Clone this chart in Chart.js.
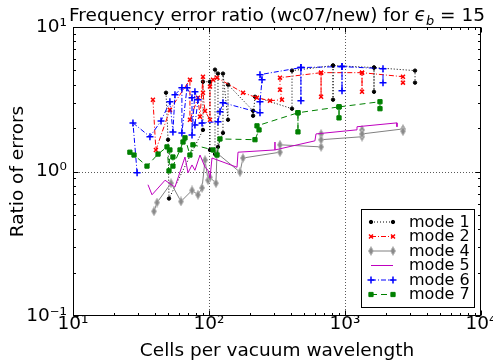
<!DOCTYPE html>
<html lang="en">
<head>
<meta charset="utf-8">
<title>Frequency error ratio</title>
<script src="https://cdn.jsdelivr.net/npm/chart.js@4.4.1/dist/chart.umd.min.js"></script>
<style>
  body { margin: 0; background: #fff; }
  #wrap { width: 493px; height: 360px; }
</style>
</head>
<body>
<div id="wrap"><canvas id="chart" width="493" height="360"></canvas></div>
<script>
// axis ticks
const xTicks = [10, 100, 1000, 10000];
const xTickLabels = ["10¹", "10²", "10³", "10⁴"];
const yTicks = [0.1, 1, 10];
const yTickLabels = ["10⁻¹", "10⁰", "10¹"];

// values (cells per wavelength, error ratio)
const mode1X = [48.3, 50.0, 50.8, 90.3, 90.3, 101.7, 101.7, 110.7, 110.7, 116.4, 116.4, 126.7, 126.7, 138, 138, 211, 211, 218, 407.7, 407.7, 816.6, 816.6, 816.6, 1634, 1634, 1634, 3273, 3273];
const mode1Y = [3.51, 1.66, 0.65, 1.94, 4.18, 4.18, 1.41, 1.32, 5.07, 4.76, 1.48, 1.85, 4.76, 2.28, 3.99, 2.63, 2.43, 3.29, 2.72, 4.99, 5.41, 3.14, 5.41, 5.24, 3.56, 5.24, 4.99, 4.12];

const mode2X = [38.7, 40.7, 51.6, 72.4, 72.4, 83, 85.9, 90.3, 90.3, 93.5, 101.7, 101.7, 107, 114.5, 177.8, 225, 281, 344, 332.7, 332.7, 666.8, 666.8, 666.8, 1334, 1334, 1334, 2668, 2668];
const mode2Y = [3.14, 1.41, 2.67, 4.32, 2.28, 3.24, 2.39, 4.53, 3.51, 2.62, 2.28, 3.87, 4.32, 4.46, 3.51, 3.24, 3.09, 3.14, 3.68, 4.46, 4.83, 3.29, 4.83, 4.83, 3.56, 4.83, 4.53, 4.12];

const mode4X = [39.4, 41.5, 52.6, 62.2, 75.0, 83.0, 88.9, 93.5, 98.4, 101.7, 112.5, 114.5, 169.0, 177.8, 332.7, 332.7, 666.8, 666.8, 666.8, 1334, 1334, 1334, 2668, 2668];
const mode4Y = [0.53, 0.61, 0.83, 0.62, 0.74, 0.69, 0.77, 1.20, 0.87, 0.91, 0.83, 1.34, 0.99, 1.24, 1.36, 1.53, 1.48, 1.82, 1.66, 1.74, 1.94, 1.82, 1.97, 1.90];

const mode5X = [35.6, 38.1, 47.5, 56.2, 66.6, 70.1, 75.0, 78.8, 85.9, 93.5, 98.4, 101.7, 105.2, 160.7, 163.4, 305.5, 305.5, 305.5, 601, 612, 1205, 1225, 2410, 2410];
const mode5Y = [0.81, 0.69, 0.87, 0.78, 1.26, 0.98, 1.11, 1.02, 1.30, 1.07, 1.02, 0.90, 1.24, 1.07, 1.36, 1.41, 1.60, 1.41, 1.63, 1.82, 1.94, 2.04, 2.17, 2.04];

const mode6X = [29.6, 27.6, 36.8, 44.4, 51.6, 54.3, 56.2, 63.2, 63.2, 68.9, 75, 75, 78.8, 83, 78.8, 88.9, 116.4, 120.4, 126.7, 237.1, 237.1, 245.5, 237.1, 474.2, 474.2, 474.2, 950.6, 950.6, 950.6, 1903, 1903];
const mode6Y = [0.98, 2.17, 1.74, 2.24, 3.04, 1.88, 3.40, 3.80, 1.85, 3.80, 3.24, 1.79, 3.56, 3.14, 2.10, 2.17, 2.21, 2.59, 2.99, 2.55, 3.04, 4.32, 4.68, 5.24, 3.09, 5.24, 5.32, 3.62, 5.32, 5.15, 4.12];

const mode7X = [26.2, 28.1, 35.0, 42.2, 49.1, 50.8, 51.6, 54.3, 54.3, 61.2, 64.4, 66.6, 72.4, 76.2, 107, 114.5, 120.4, 217.8, 233.3, 225.4, 451, 451, 451, 903.7, 903.7, 903.7, 1808, 1808];
const mode7Y = [1.36, 1.30, 1.09, 1.32, 1.48, 1.01, 1.41, 1.26, 1.09, 1.41, 1.60, 1.71, 1.30, 1.53, 1.41, 1.30, 1.68, 1.66, 1.94, 2.07, 2.55, 1.88, 2.55, 2.80, 2.35, 2.80, 3.04, 2.72];

const FONT = '"DejaVu Sans", sans-serif';
Chart.defaults.font.family = FONT;
Chart.defaults.color = "#000";

function pts(xs, ys) {
    return xs.map((x, i) => ({ x: x, y: ys[i] }));
}

// matplotlib style thin diamond
function thinDiamond() {
    const c = document.createElement("canvas");
    c.width = 6;
    c.height = 10;
    const g = c.getContext("2d");
    g.beginPath();
    g.moveTo(3, 0.6);
    g.lineTo(5.5, 5);
    g.lineTo(3, 9.4);
    g.lineTo(0.5, 5);
    g.closePath();
    g.fillStyle = "#8a8a8a";
    g.fill();
    g.strokeStyle = "#b8b8b8";
    g.lineWidth = 1;
    g.stroke();
    return c;
}

function series(label, xs, ys, color, dash, style, radius, order) {
    return {
        label: label,
        data: pts(xs, ys),
        showLine: true,
        borderColor: color,
        borderWidth: 1,
        borderDash: dash,
        pointStyle: style,
        pointRadius: radius,
        pointBackgroundColor: color,
        pointBorderColor: color,
        pointBorderWidth: style === "cross" || style === "crossRot" ? 1.5 : 1,
        tension: 0,
        order: order
    };
}

const diamond = thinDiamond();

const datasets = [
    series("mode 1", mode1X, mode1Y, "#000000", [1, 2], "circle", 1.7, 6),
    series("mode 2", mode2X, mode2Y, "#ff0000", [5, 2, 1, 2], "crossRot", 2.8, 5),
    series("mode 4", mode4X, mode4Y, "#808080", [], diamond, 4, 4),
    series("mode 5", mode5X, mode5Y, "#bf00bf", [], "circle", 0, 3),
    series("mode 6", mode6X, mode6Y, "#0000ff", [5, 2, 1, 2], "cross", 3.5, 2),
    series("mode 7", mode7X, mode7Y, "#008000", [6, 4], "rect", 3, 1)
];

function seg(ctx, x1, y1, x2, y2) {
    ctx.beginPath();
    ctx.moveTo(x1, y1);
    ctx.lineTo(x2, y2);
    ctx.stroke();
}

function minorValues(min, max) {
    const out = [];
    for (let d = min; d < max; d *= 10) {
        for (let k = 2; k <= 9; k++) out.push(d * k);
    }
    return out;
}

const decorations = {
    id: "decorations",
    beforeDatasetsDraw(chart) {
        const { ctx, chartArea: a, scales } = chart;
        ctx.save();
        ctx.strokeStyle = "rgba(0,0,0,0.65)";
        ctx.lineWidth = 1;
        ctx.setLineDash([1, 2]);
        xTicks.slice(1, -1).forEach(v => {
            const px = Math.round(scales.x.getPixelForValue(v)) + 0.5;
            seg(ctx, px, a.top, px, a.bottom);
        });
        yTicks.slice(1, -1).forEach(v => {
            const py = Math.round(scales.y.getPixelForValue(v)) + 0.5;
            seg(ctx, a.left, py, a.right, py);
        });
        ctx.restore();
    },
    afterDraw(chart) {
        const { ctx, chartArea: a, scales } = chart;
        const L = Math.round(a.left) + 0.5, R = Math.round(a.right) - 0.5;
        const T = Math.round(a.top) + 0.5, B = Math.round(a.bottom) - 0.5;
        ctx.save();
        ctx.setLineDash([]);
        ctx.strokeStyle = "#000";
        ctx.lineWidth = 1;
        ctx.strokeRect(L, T, R - L, B - T);

        // inward ticks on all four sides
        const tick = (v, len, isX) => {
            if (isX) {
                const px = Math.round(scales.x.getPixelForValue(v)) + 0.5;
                seg(ctx, px, B, px, B - len);
                seg(ctx, px, T, px, T + len);
            } else {
                const py = Math.round(scales.y.getPixelForValue(v)) + 0.5;
                seg(ctx, L, py, L + len, py);
                seg(ctx, R, py, R - len, py);
            }
        };
        xTicks.forEach(v => tick(v, 5, true));
        minorValues(10, 10000).forEach(v => tick(v, 2.5, true));
        yTicks.forEach(v => tick(v, 5, false));
        minorValues(0.1, 10).forEach(v => tick(v, 2.5, false));

        // title with math part
        const size = 18.5;
        const parts = [
            { t: "Frequency error ratio (wc07/new) for ", f: size + "px " + FONT, dy: 0 },
            { t: "ϵ", f: "italic " + size + "px " + FONT, dy: 0 },
            { t: "b", f: "italic " + (size * 0.7).toFixed(1) + "px " + FONT, dy: size * 0.2 },
            { t: " = 15", f: size + "px " + FONT, dy: 0 }
        ];
        let total = 0;
        parts.forEach(p => { ctx.font = p.f; p.w = ctx.measureText(p.t).width; total += p.w; });
        let tx = (a.left + a.right) / 2 - total / 2;
        ctx.fillStyle = "#000";
        ctx.textBaseline = "alphabetic";
        ctx.textAlign = "left";
        parts.forEach(p => { ctx.font = p.f; ctx.fillText(p.t, tx, 21 + p.dy); tx += p.w; });

        // axis titles
        ctx.font = size + "px " + FONT;
        ctx.textAlign = "center";
        ctx.fillText("Cells per vacuum wavelength", (a.left + a.right) / 2, 356);
        ctx.save();
        ctx.translate(18, (a.top + a.bottom) / 2);
        ctx.rotate(-Math.PI / 2);
        ctx.textBaseline = "middle";
        ctx.fillText("Ratio of errors", 0, 0);
        ctx.restore();

        // legend box
        const lx = 361.5, ly = 209.5, lw = 113, lh = 98;
        ctx.fillStyle = "#fff";
        ctx.fillRect(lx, ly, lw, lh);
        ctx.strokeStyle = "#000";
        ctx.strokeRect(lx, ly, lw, lh);
        ctx.font = "16px " + FONT;
        ctx.textAlign = "left";
        ctx.textBaseline = "middle";
        chart.data.datasets.forEach((ds, i) => {
            const yy = 222 + i * 14.5;
            const x1 = 371, x2 = 393;
            ctx.strokeStyle = ds.borderColor;
            ctx.lineWidth = ds.borderWidth;
            ctx.setLineDash(ds.borderDash);
            seg(ctx, x1, yy, x2, yy);
            ctx.setLineDash([]);
            if (ds.pointRadius > 0) {
                ctx.fillStyle = ds.pointBackgroundColor;
                ctx.strokeStyle = ds.pointBorderColor;
                ctx.lineWidth = ds.pointBorderWidth;
                const opt = { pointStyle: ds.pointStyle, radius: ds.pointRadius, rotation: 0, borderWidth: ds.pointBorderWidth };
                Chart.helpers.drawPoint(ctx, opt, x1, yy);
                Chart.helpers.drawPoint(ctx, opt, x2, yy);
            }
            ctx.fillStyle = "#000";
            ctx.fillText(ds.label, 409, yy + 0.5);
        });
        ctx.restore();
    }
};

new Chart(document.getElementById("chart"), {
    type: "scatter",
    data: { datasets: datasets },
    plugins: [decorations],
    options: {
        responsive: false,
        animation: false,
        events: [],
        layout: { padding: { left: 0, right: 0, top: 27, bottom: 0 } },
        plugins: {
            legend: { display: false },
            title: { display: false },
            tooltip: { enabled: false }
        },
        scales: {
            x: {
                type: "logarithmic",
                min: 10,
                max: 10000,
                afterBuildTicks: s => { s.ticks = xTicks.map(v => ({ value: v, major: true })); },
                afterFit: s => { s.height = 44; s.paddingLeft = 0; s.paddingRight = 12; },
                grid: { display: false, drawTicks: false },
                border: { display: false },
                ticks: {
                    autoSkip: false,
                    maxRotation: 0,
                    padding: -3,
                    color: "#000",
                    font: { size: 18.5 },
                    callback: (v, i) => xTickLabels[i]
                }
            },
            y: {
                type: "logarithmic",
                min: 0.1,
                max: 10,
                afterBuildTicks: s => { s.ticks = yTicks.map(v => ({ value: v, major: true })); },
                afterFit: s => { s.width = 73; s.paddingTop = 0; s.paddingBottom = 0; },
                grid: { display: false, drawTicks: false },
                border: { display: false },
                ticks: {
                    autoSkip: false,
                    padding: 6,
                    color: "#000",
                    font: { size: 18.5 },
                    callback: (v, i) => yTickLabels[i]
                }
            }
        }
    }
});
</script>
</body>
</html>
